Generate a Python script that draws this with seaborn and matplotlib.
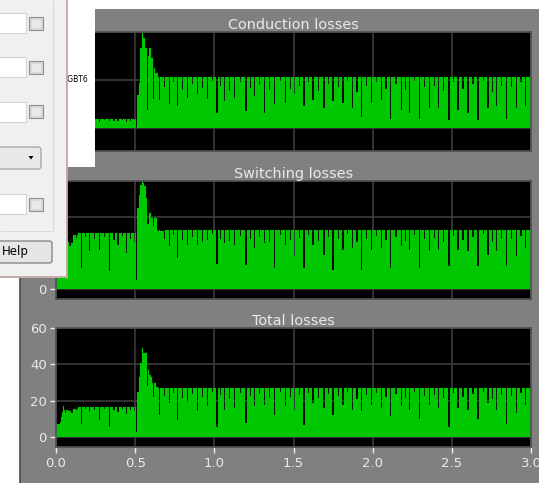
import numpy as np
import matplotlib
matplotlib.use("Agg")
import matplotlib.pyplot as plt
import seaborn as sns
from matplotlib.patches import Rectangle, Polygon, FancyBboxPatch
from matplotlib.lines import Line2D

# ---------------- data ----------------
titles = ["Conduction losses", "Switching losses", "Total losses"]
x_ticks = [0.0, 0.5, 1.0, 1.5, 2.0, 2.5, 3.0]
x_tick_labels = ["0.0", "0.5", "1.0", "1.5", "2.0", "2.5", "3.0"]
cond_yticks = [0, 10, 20]
sw_yticks = [0, 20]
tot_yticks = [0, 20, 40, 60]

# envelope (step-post breakpoints)
cond_env_t = [0.0, 0.505, 0.512, 0.522, 0.532, 0.542, 0.552, 0.563, 0.578, 0.600, 0.610, 0.625, 0.645, 3.0]
cond_env_v = [1.9, 0.0, 6.9, 9.4, 16.7, 19.8, 18.8, 16.7, 14.9, 14.6, 12.5, 11.5, 10.6, 10.6]

sw_env_t = [0.0, 0.025, 0.032, 0.040, 0.046, 0.052, 0.085, 0.095, 0.110, 0.140, 0.505, 0.512,
            0.522, 0.532, 0.540, 0.547, 0.555, 0.571, 0.585, 0.600, 0.615, 0.636, 0.650, 3.0]
sw_env_v = [5.0, 6.0, 9.0, 12.0, 15.0, 13.0, 12.0, 14.2, 15.0, 15.5, 2.6, 22.5,
            26.0, 28.8, 29.9, 29.5, 28.5, 25.3, 21.1, 19.7, 17.4, 16.2, 16.3, 16.3]

tot_env_t = [0.0, 0.025, 0.032, 0.040, 0.046, 0.052, 0.085, 0.110, 0.140, 0.505, 0.512, 0.522, 0.532,
             0.540, 0.545, 0.551, 0.570, 0.575, 0.583, 0.590, 0.600, 0.608, 0.618, 0.630, 0.645, 3.0]
tot_env_v = [7.0, 8.0, 11.0, 14.0, 17.0, 15.0, 14.5, 15.5, 16.5, 2.5, 25.0, 33.0, 41.0,
             45.0, 49.0, 46.0, 46.0, 40.0, 37.0, 34.0, 33.0, 30.0, 28.0, 27.5, 26.7, 26.7]

# downward spikes: times and values
dip_t_early = [0.055, 0.097, 0.156, 0.209, 0.272, 0.335, 0.388, 0.440, 0.493]
dip_t_trans = [0.577, 0.612]
dip_t_post = [0.649, 0.714, 0.766, 0.825, 0.889, 0.952, 1.013, 1.061, 1.124, 1.196, 1.251, 1.314,
              1.377, 1.447, 1.503, 1.563, 1.619, 1.689, 1.746, 1.809, 1.868, 1.925, 1.988, 2.051,
              2.110, 2.177, 2.230, 2.293, 2.356, 2.413, 2.478, 2.535, 2.598, 2.662, 2.725, 2.777,
              2.841, 2.904, 2.961]
notch_t_early = [0.076, 0.125, 0.183, 0.240, 0.303, 0.362, 0.414, 0.466]
notch_t_post = [0.682, 0.740, 0.796, 0.857, 0.921, 0.983, 1.037, 1.093, 1.160, 1.224, 1.283, 1.346,
                1.412, 1.475, 1.533, 1.591, 1.654, 1.718, 1.778, 1.839, 1.897, 1.957, 2.020, 2.081,
                2.144, 2.204, 2.262, 2.325, 2.385, 2.446, 2.507, 2.567, 2.630, 2.694, 2.751, 2.809,
                2.873, 2.933]

cond_dip_early = [1.5, 1.5, 1.2, 1.5, 1.3, 1.4, 1.5, 1.3, 1.6]
cond_dip_trans = [3.8, 6.0]
cond_dip_post = [5.9, 4.9, 4.5, 6.3, 7.0, 6.0, 3.1, 5.6, 6.3, 3.5, 6.6, 3.1, 4.9, 5.2, 7.0, 4.5,
                 5.9, 4.2, 5.6, 5.2, 4.2, 2.2, 5.2, 5.9, 1.9, 3.8, 3.1, 1.9, 4.2, 4.2, 1.7, 3.8,
                 3.1, 1.7, 4.2, 4.5, 1.9, 4.2, 4.5]
cond_notch_early = [1.6, 1.5, 1.6, 1.5, 1.6, 1.4, 1.6, 1.5]
cond_notch_post = [8.5, 9.5, 8.0, 9.2, 8.3, 9.8, 8.8, 7.8, 9.5, 8.4, 9.0, 7.9, 9.8, 8.2, 8.8, 9.5,
                   7.8, 9.2, 8.5, 9.8, 7.6, 8.8, 9.5, 8.2, 9.2, 7.9, 9.8, 8.5, 8.8, 7.8, 9.5, 8.2,
                   9.2, 9.8, 7.6, 8.8, 8.5, 9.5]

sw_dip_early = [12.0, 12.8, 5.8, 10.5, 10.9, 4.9, 12.3, 10.0, 13.0]
sw_dip_trans = [18.0, 14.0]
sw_dip_post = [8.1, 11.9, 8.6, 12.3, 12.3, 13.5, 6.8, 12.8, 12.3, 6.7, 11.4, 12.8, 5.8, 12.3, 9.1,
               5.8, 12.3, 9.5, 5.3, 10.9, 11.4, 5.3, 10.9, 11.4, 5.8, 11.9, 10.9, 5.8, 10.5, 10.9,
               6.3, 10.9, 10.5, 6.3, 9.5, 10.5, 6.3, 9.1, 11.4]
sw_notch_early = [13.5, 14.2, 14.5, 13.8, 14.4, 13.6, 14.6, 14.0]
sw_notch_post = [14.0, 15.0, 13.5, 14.5, 13.0, 15.2, 14.0, 13.2, 14.8, 13.8, 14.5, 13.0, 15.0, 13.5,
                 14.2, 15.0, 13.2, 14.5, 13.8, 15.2, 13.0, 14.0, 14.8, 13.5, 14.5, 13.2, 15.0, 13.8,
                 14.2, 13.0, 14.8, 13.5, 14.5, 15.2, 13.0, 14.0, 13.8, 14.8]

tot_dip_early = [13.1, 13.1, 7.0, 13.7, 9.4, 5.7, 13.7, 12.6, 14.4]
tot_dip_trans = [28.0, 22.0]
tot_dip_post = [11.9, 18.7, 9.4, 19.2, 14.1, 16.9, 5.7, 15.0, 15.9, 7.6, 16.9, 17.8, 11.9, 16.9,
                15.0, 6.7, 18.7, 15.9, 12.2, 17.8, 15.0, 14.1, 17.8, 15.9, 11.3, 16.9, 15.0, 9.9,
                17.8, 15.9, 5.7, 15.9, 15.0, 9.9, 18.7, 15.0, 7.0, 13.1, 17.8]
tot_notch_early = [14.5, 15.0, 15.3, 14.8, 15.2, 14.6, 15.4, 14.9]
tot_notch_post = [22.5, 24.0, 21.5, 23.5, 22.0, 24.5, 23.0, 21.0, 24.0, 22.5, 23.5, 21.5, 24.5, 22.0,
                  23.0, 24.0, 21.5, 23.5, 22.5, 24.5, 21.0, 23.0, 24.0, 22.0, 23.5, 21.5, 24.5, 22.5,
                  23.0, 21.5, 24.0, 22.0, 23.5, 24.5, 21.0, 23.0, 22.5, 24.0]

# ---------------- styling ----------------
GREEN = "#00c800"
FRAME = "#808080"
GRID = "#3c3c3c"
LIGHT = "#eaeaea"
W, H = 539, 483

sns.set_theme(style="dark", rc={"figure.facecolor": FRAME, "axes.facecolor": "black"})
plt.rcParams["font.family"] = ["DejaVu Sans"]


def build_series(env_t, env_v, cut_t, cut_v, width=0.0075):
    env_t = np.asarray(env_t, dtype=float)
    env_v = np.asarray(env_v, dtype=float)
    ts, vs = list(env_t), list(env_v)
    for t, v in zip(cut_t, cut_v):
        level = env_v[np.searchsorted(env_t, t, side="right") - 1]
        ts += [t, t + width]
        vs += [min(v, level), level]
    order = np.argsort(ts, kind="stable")
    return np.asarray(ts)[order], np.asarray(vs)[order]


panels = [
    (cond_env_t, cond_env_v,
     dip_t_early + dip_t_trans + dip_t_post + notch_t_early + notch_t_post,
     cond_dip_early + cond_dip_trans + cond_dip_post + cond_notch_early + cond_notch_post,
     cond_yticks, (-4.8, 20.0)),
    (sw_env_t, sw_env_v,
     dip_t_early + dip_t_trans + dip_t_post + notch_t_early + notch_t_post,
     sw_dip_early + sw_dip_trans + sw_dip_post + sw_notch_early + sw_notch_post,
     sw_yticks, (-2.8, 30.0)),
    (tot_env_t, tot_env_v,
     dip_t_early + dip_t_trans + dip_t_post + notch_t_early + notch_t_post,
     tot_dip_early + tot_dip_trans + tot_dip_post + tot_notch_early + tot_notch_post,
     tot_yticks, (-5.5, 60.0)),
]

fig = plt.figure(figsize=(W / 100, H / 100), dpi=100)
fig.patch.set_facecolor(FRAME)

# axes boxes in pixels: (left, top, right, bottom)
boxes = [(56, 32, 531, 151), (56, 181, 531, 299), (56, 328, 531, 447)]

for i, ((et, ev, ct, cv, yt, ylim), (l, t, r, b), title) in enumerate(zip(panels, boxes, titles)):
    ax = fig.add_axes([l / W, 1 - b / H, (r - l) / W, (b - t) / H])
    ax.set_facecolor("black")
    ts, vs = build_series(et, ev, ct, cv)
    ax.fill_between(ts, 0, vs, step="post", color=GREEN, lw=0, zorder=2)
    sns.lineplot(x=ts, y=vs, ax=ax, drawstyle="steps-post", estimator=None, sort=False,
                 color=GREEN, lw=0.1, zorder=2.5)
    ax.set_xlim(0, 3)
    ax.set_ylim(*ylim)
    ax.set_xticks(x_ticks)
    ax.set_yticks(yt)
    ax.set_yticklabels([str(v) for v in yt])
    ax.grid(True, color=GRID, lw=1.2)
    ax.set_axisbelow(True)
    ax.set_xlabel("")
    ax.set_ylabel("")
    for s in ax.spines.values():
        s.set_visible(True)
        s.set_color("#505050")
        s.set_linewidth(1.2)
    ax.tick_params(axis="y", left=True, colors=LIGHT, labelsize=9.5, length=4.5, width=1, pad=2)
    if i == 2:
        ax.set_xticklabels(x_tick_labels)
        ax.tick_params(axis="x", bottom=True, colors=LIGHT, labelsize=9.5, length=4.5, width=1, pad=3)
    else:
        ax.tick_params(axis="x", bottom=False, labelbottom=False)
    ax.set_title(title, color=LIGHT, fontsize=10.4, pad=2.5)


# ---------------- overlapping windows of the screenshot ----------------
def rect(x, y, w, h, z, **kw):
    p = Rectangle((x / W, 1 - (y + h) / H), w / W, h / H, transform=fig.transFigure, zorder=z, **kw)
    fig.add_artist(p)
    return p


def hline(x0, x1, y, z, **kw):
    fig.add_artist(Line2D([x0 / W, x1 / W], [1 - y / H, 1 - y / H], transform=fig.transFigure, zorder=z, **kw))


def vline(x, y0, y1, z, **kw):
    fig.add_artist(Line2D([x / W, x / W], [1 - y0 / H, 1 - y1 / H], transform=fig.transFigure, zorder=z, **kw))


# white strip above the scope and white window behind the dialog
rect(0, 0, W, 9, 10, fc="white", ec="none")
rect(0, 0, 95, 167, 10, fc="white", ec="none")
fig.text(88 / W, 1 - 79 / H, "IGBT6", fontsize=5.5, color="black", ha="right", va="center", zorder=11)
# white desktop left of scope, scope left border
rect(0, 278, 20, H - 278, 10, fc="white", ec="none")
vline(20, 278, H, 10, color="#4a4a4a", lw=1.2)

# dialog
rect(-2, -2, 69, 280, 12, fc="#f0f0f0", ec="none")
vline(66.5, 0, 278, 13, color="#bfaaa4", lw=1.3)
hline(0, 67, 277, 13, color="#bfaaa4", lw=1.3)
vline(53, 0, 231, 13, color="#d5dde3", lw=0.8)
hline(0, 53, 231, 13, color="#d5dde3", lw=0.8)
for (by, cy) in [(13, 17), (57, 61), (102, 105), (194, 198)]:
    rect(-3, by, 29, 20, 13, fc="white", ec="#cdd5dc", lw=0.8)
    rect(29, cy, 14, 13, 13, fc="#d9d9d9", ec="#8e8f8f", lw=0.8)
    rect(31.5, cy + 2.5, 9, 8, 14, fc="#e9e9e9", ec="none")
# dropdown
dd = FancyBboxPatch((-3 / W, 1 - 169 / H), 44 / W, 22 / H, boxstyle="round,pad=0,rounding_size=0.005",
                    transform=fig.transFigure, fc="#e8e8e8", ec="#9a9a9a", lw=0.8, zorder=13)
fig.add_artist(dd)
fig.add_artist(Polygon([(28.5 / W, 1 - 156 / H), (33.5 / W, 1 - 156 / H), (31 / W, 1 - 159.5 / H)],
                       closed=True, transform=fig.transFigure, fc="black", ec="none", zorder=14))
# Help button
hb = FancyBboxPatch((-3 / W, 1 - 263 / H), 55 / W, 22 / H, boxstyle="round,pad=0,rounding_size=0.005",
                    transform=fig.transFigure, fc="#e6e6e6", ec="#707070", lw=0.8, zorder=13)
fig.add_artist(hb)
fig.text(2 / W, 1 - 252 / H, "Help", fontsize=8.5, color="black", ha="left", va="center", zorder=14)

fig.savefig("out.png", dpi=100, facecolor=FRAME)
